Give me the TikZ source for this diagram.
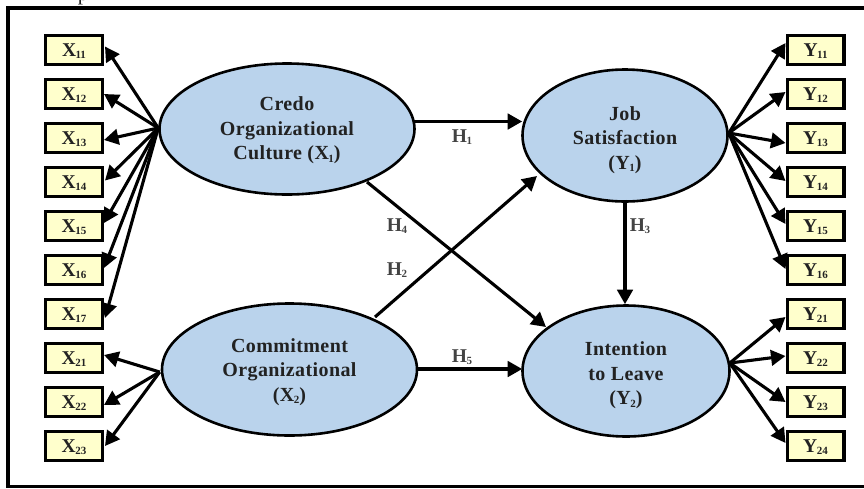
\documentclass[tikz,border=0pt]{standalone}
\usepackage{fontspec}
\setmainfont{Liberation Serif}
\newfontfamily\lblfont[LetterSpace=2]{Liberation Serif}
\usetikzlibrary{arrows.meta,shapes.geometric}
\definecolor{boxfill}{HTML}{FFFFCC}
\definecolor{ellfill}{HTML}{BAD3EC}
\definecolor{inkc}{HTML}{222222}
\newcommand{\sbx}[2]{#1\raisebox{-2.2pt}{\fontsize{11}{11}\selectfont\kern-0.5pt #2}}
\newcommand{\dropfirst}[1]{\rule{0pt}{#1pt}}
\tikzset{x=1pt,y=-1pt,
 indbox/.style={draw=black,fill=boxfill,line width=3.2pt,minimum width=56.8pt,minimum height=28.8pt,inner sep=0pt,text height=15pt,text depth=2pt,font=\fontsize{19.5}{19.5}\selectfont\bfseries,text=inkc},
 latent/.style={shape=ellipse,draw=black,fill=ellfill,line width=2.6pt,inner sep=0pt,align=center,font=\lblfont\fontsize{20}{24.5}\selectfont\bfseries,text=inkc},
 hlabel/.style={font=\fontsize{19.5}{19.5}\selectfont\bfseries,text=inkc!85,inner sep=0pt},
 conn/.style={line width=3.1pt,draw=black,-{Triangle[length=14.5pt,width=15.5pt]}},
 sidebox/.style={line width=3.6pt,draw=black},
}
\begin{document}
\begin{tikzpicture}
\useasboundingbox (0,0) rectangle (864,488);
\clip (0,0) rectangle (864,488);
% cropped-off caption letter above the frame
\node[anchor=base,inner sep=0pt,text=inkc,font=\fontsize{21}{21}\selectfont] (cap) at (83,0.8) {p};
\draw[sidebox] (870,8) -- (8,8) -- (8,486.5) -- (870,486.5);
% latent variables
\node[latent,minimum width=255pt,minimum height=131pt] (e1) at (287,129) {\dropfirst{17}Credo\\Organizational\\Culture (\sbx{X}{1})};
\node[latent,minimum width=205pt,minimum height=132pt] (y1) at (625,135.5) {\dropfirst{23}Job\\Satisfaction\\(\sbx{Y}{1})};
\node[latent,minimum width=255pt,minimum height=132pt] (e2) at (289.5,369.5) {\dropfirst{19}Commitment\\Organizational\\(\sbx{X}{2})};
\node[latent,minimum width=207pt,minimum height=131pt] (y2) at (626,371) {\dropfirst{23}Intention\\to Leave\\(\sbx{Y}{2})};
% indicators
\foreach \n/\s/\yy in {x11/11/50,x12/12/94,x13/13/138,x14/14/182,x15/15/226,x16/16/270,x17/17/314,x21/21/358,x22/22/402,x23/23/446}
  \node[indbox] (\n) at (74,\yy) {\sbx{X}{\s}};
\foreach \n/\s/\yy in {a11/11/50,a12/12/94,a13/13/138,a14/14/182,a15/15/226,a16/16/270,a21/21/314,a22/22/358,a23/23/402,a24/24/446}
  \node[indbox] (\n) at (815.5,\yy) {\sbx{Y}{\s}};
% measurement arrows, left
\coordinate (o1) at ([shift={(0,-1)}]e1.west);
\coordinate (o2) at ([shift={(-1,2.5)}]e2.west);
\coordinate (o3) at ([shift={(0,-2.5)}]y1.east);
\coordinate (o4) at ([shift={(-1,-8)}]y2.east);
\draw[conn] (o1) -- ([shift={(1,-3.5)}]x11.east);
\draw[conn] (o1) -- (x12.east);
\draw[conn] (o1) -- ([shift={(0,2)}]x13.east);
\draw[conn] (o1) -- ([shift={(1,-1.5)}]x14.east);
\draw[conn] (o1) -- ([shift={(0,-3)}]x15.east);
\draw[conn] (o1) -- ([shift={(0,-2)}]x16.east);
\draw[conn] (o1) -- ([shift={(1,4)}]x17.east);
\draw[conn] (o2) -- ([shift={(0,-3)}]x21.east);
\draw[conn] (o2) -- ([shift={(0,3)}]x22.east);
\draw[conn] (o2) -- ([shift={(1,0)}]x23.east);
% measurement arrows, right
\draw[conn] (o3) -- ([shift={(0,-7)}]a11.west);
\draw[conn] (o3) -- ([shift={(0,-2)}]a12.west);
\draw[conn] (o3) -- ([shift={(0,5)}]a13.west);
\draw[conn] (o3) -- ([shift={(0,-1)}]a14.west);
\draw[conn] (o3) -- ([shift={(0,-2)}]a15.west);
\draw[conn] (o3) -- ([shift={(0,-1)}]a16.west);
\draw[conn] (o4) -- ([shift={(0,3)}]a21.west);
\draw[conn] (o4) -- ([shift={(0,-2)}]a22.west);
\draw[conn] (o4) -- (a23.west);
\draw[conn] (o4) -- ([shift={(0,-3)}]a24.west);
% structural arrows
\draw[conn] ([shift={(-3,-7.5)}]e1.east) -- ([shift={(1,-14)}]y1.west);
\draw[conn] ([shift={(-1,-0.5)}]e2.east) -- ([shift={(1,-2)}]y2.west);
\draw[conn] ([shift={(80,53)}]e1.center) -- ([shift={(-80,-44)}]y2.center);
\draw[conn] ([shift={(85.5,-52.5)}]e2.center) -- ([shift={(-88,40.5)}]y1.center);
\draw[conn] ([shift={(0,-3)}]y1.south) -- ([shift={(-1,0)}]y2.north);
% path labels
\node[hlabel] (h1) at (462,137) {\sbx{H}{1}};
\node[hlabel] (h2) at (397,270) {\sbx{H}{2}};
\node[hlabel] (h3) at (640,226) {\sbx{H}{3}};
\node[hlabel] (h4) at (397,226) {\sbx{H}{4}};
\node[hlabel] (h5) at (462,357) {\sbx{H}{5}};
\end{tikzpicture}
\end{document}
